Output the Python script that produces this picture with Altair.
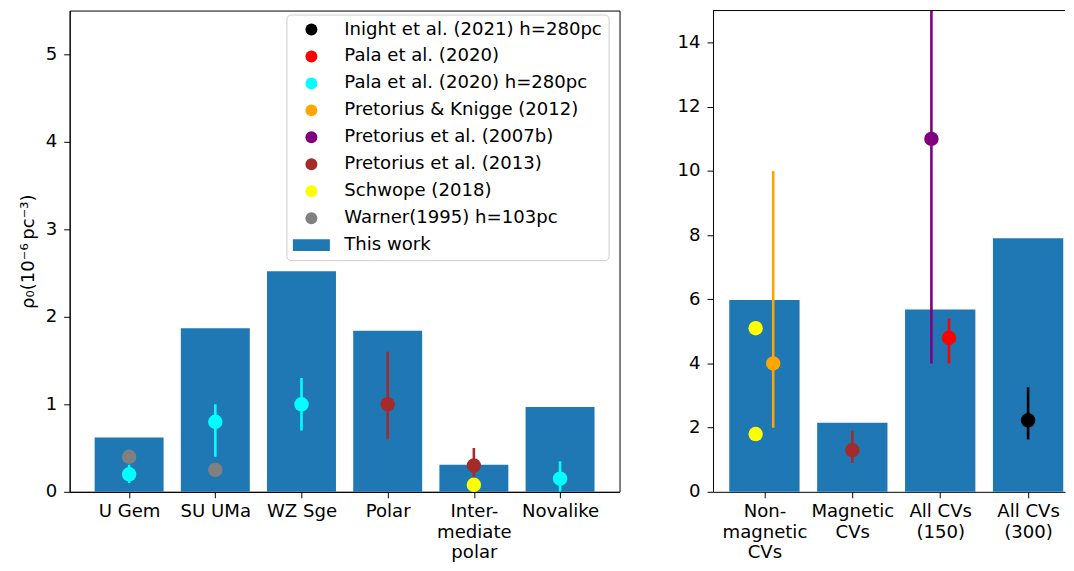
import json
import altair as alt
import pandas as pd

FONT = "DejaVu Sans"
FS = 18.2

# ---------------- data ----------------
sources = [
    "Inight et al. (2021) h=280pc",
    "Pala et al. (2020)",
    "Pala et al. (2020) h=280pc",
    "Pretorius & Knigge (2012)",
    "Pretorius et al. (2007b)",
    "Pretorius et al. (2013)",
    "Schwope (2018)",
    "Warner(1995) h=103pc",
    "This work",
]
source_colors = ["#000000", "#ff0000", "#00ffff", "#ffa500", "#800080",
                 "#a52a2a", "#ffff00", "#808080", "#1f77b4"]

left_cats = ["U Gem", "SU UMa", "WZ Sge", "Polar", "Inter-|mediate|polar", "Novalike"]
left_bars = [0.62, 1.87, 2.52, 1.84, 0.31, 0.97]

left_pt_cat = [0, 0, 1, 1, 2, 3, 4, 4, 5]
left_pt_src = ["Warner(1995) h=103pc", "Pala et al. (2020) h=280pc",
               "Pala et al. (2020) h=280pc", "Warner(1995) h=103pc",
               "Pala et al. (2020) h=280pc", "Pretorius et al. (2013)",
               "Pretorius et al. (2013)", "Schwope (2018)",
               "Pala et al. (2020) h=280pc"]
left_pt_val = [0.40, 0.20, 0.80, 0.25, 1.00, 1.00, 0.30, 0.08, 0.15]
left_pt_lo = [None, 0.10, 0.40, None, 0.70, 0.60, 0.10, None, 0.00]
left_pt_hi = [None, 0.31, 1.00, None, 1.30, 1.60, 0.50, None, 0.35]
left_pt_off = [0, 0, 0, 0, 0, 0, 0, 0, 0]

right_cats = ["Non-|magnetic|CVs", "Magnetic|CVs", "All CVs|(150)", "All CVs|(300)"]
right_bars = [5.98, 2.15, 5.68, 7.90]

right_pt_cat = [0, 0, 0, 1, 2, 2, 3]
right_pt_src = ["Schwope (2018)", "Schwope (2018)", "Pretorius & Knigge (2012)",
                "Pretorius et al. (2013)", "Pretorius et al. (2007b)",
                "Pala et al. (2020)", "Inight et al. (2021) h=280pc"]
right_pt_val = [5.10, 1.80, 4.00, 1.30, 11.0, 4.80, 2.23]
right_pt_lo = [None, None, 2.0, 0.9, 4.0, 4.0, 1.63]
right_pt_hi = [None, None, 10.0, 1.9, 20.0, 5.4, 3.26]
right_pt_off = [-0.1, -0.1, 0.1, 0, -0.1, 0.1, 0]

left_yticks = [0, 1, 2, 3, 4, 5]
right_yticks = [0, 2, 4, 6, 8, 10, 12, 14]

Y_TITLE = "\u03c1\u2080(10\u207b\u2076\u2009pc\u207b\u00b3)"

H = 484

# ---------------- helpers ----------------
color_map = dict(zip(sources, source_colors))
RECT = "M-3.1,-1H3.1V1H-3.1Z"
color_scale = alt.Scale(domain=sources, range=source_colors)
shape_scale = alt.Scale(domain=sources, range=["circle"] * 8 + [RECT])

legend = alt.Legend(
    title=None, orient="none", legendX=218, legendY=4,
    labelFont=FONT, labelFontSize=FS, labelColor="black", labelLimit=500,
    symbolSize=144, symbolOpacity=1, symbolStrokeWidth=0,
    symbolOffset=10, labelOffset=24, rowPadding=8.1, padding=6,
    strokeColor="#cccccc", fillColor="white", cornerRadius=4,
)


def panel(cats, bars, pcat, psrc, pval, plo, phi, poff, xdom, ydom, yticks,
          ytitle, show_legend):
    bar_df = pd.DataFrame({
        "x0": [i - 0.4 for i in range(len(cats))],
        "x1": [i + 0.4 for i in range(len(cats))],
        "v": bars,
        "base": [0.0] * len(cats),
        "src": ["This work"] * len(cats),
    })
    pt_df = pd.DataFrame({
        "x": [c + o for c, o in zip(pcat, poff)],
        "v": pval, "lo": plo, "hi": phi, "src": psrc,
    })
    pt_df["hex"] = pt_df["src"].map(color_map)
    err_df = pt_df.dropna(subset=["lo"])

    xscale = alt.Scale(domain=xdom, nice=False, zero=False)
    yscale = alt.Scale(domain=ydom, nice=False, zero=False)
    label_expr = "split(" + json.dumps(cats) + "[round(datum.value)], '|')"
    xaxis = alt.Axis(values=list(range(len(cats))), labelExpr=label_expr,
                     title=None, grid=False, labelLineHeight=20.5,
                     labelPadding=5, tickSize=6)
    yaxis = alt.Axis(values=yticks, title=ytitle, grid=False, format="d",
                     labelPadding=7, tickSize=6, titlePadding=8)
    leg = legend if show_legend else None

    bars_layer = alt.Chart(bar_df).mark_bar().encode(
        x=alt.X("x0:Q", scale=xscale, axis=xaxis),
        x2="x1:Q",
        y=alt.Y("v:Q", scale=yscale, axis=yaxis),
        y2="base:Q",
        color=alt.Color("src:N", scale=color_scale, legend=leg),
    )
    err_layer = alt.Chart(err_df).mark_rule(strokeWidth=2.6, clip=True).encode(
        x=alt.X("x:Q", scale=xscale, axis=xaxis),
        y=alt.Y("lo:Q", scale=yscale, axis=yaxis),
        y2="hi:Q",
        color=alt.Color("hex:N", scale=None),
    )
    pts_layer = alt.Chart(pt_df).mark_point(filled=True, size=210, opacity=1).encode(
        x=alt.X("x:Q", scale=xscale, axis=xaxis),
        y=alt.Y("v:Q", scale=yscale, axis=yaxis),
        color=alt.Color("src:N", scale=color_scale, legend=leg),
        shape=alt.Shape("src:N", scale=shape_scale, legend=leg),
    )
    return [bars_layer, err_layer, pts_layer], yscale


left_layers, _ = panel(left_cats, left_bars, left_pt_cat, left_pt_src,
                       left_pt_val, left_pt_lo, left_pt_hi, left_pt_off,
                       [-0.69, 5.69], [0, 5.5], left_yticks, Y_TITLE, True)
left = alt.layer(*left_layers).properties(width=553, height=H)

right_layers, r_yscale = panel(right_cats, right_bars, right_pt_cat, right_pt_src,
                               right_pt_val, right_pt_lo, right_pt_hi, right_pt_off,
                               [-0.585, 3.42], [0, 15], right_yticks, None, False)
# top frame line of the right panel (its right edge lies outside the picture)
top_line = alt.Chart(pd.DataFrame({"top": [15]})).mark_rule(
    color="black", strokeWidth=1).encode(y=alt.Y("top:Q", scale=r_yscale))
right = alt.layer(*right_layers, top_line).properties(
    width=354, height=H, view=alt.ViewBackground(stroke="transparent"))

chart = alt.hconcat(left, right, spacing=56).resolve_scale(
    color="independent", shape="independent"
).properties(
    padding={"left": 9, "top": 0, "right": 0, "bottom": 0}
).configure_view(
    stroke="black", strokeWidth=1
).configure_axis(
    labelFont=FONT, labelFontSize=FS, labelColor="black",
    titleFont=FONT, titleFontSize=FS, titleFontWeight="normal", titleColor="black",
    domainColor="black", tickColor="black", domainWidth=1, tickWidth=1,
)

chart.save("out.html", embed_options={"renderer": "svg", "actions": False})
